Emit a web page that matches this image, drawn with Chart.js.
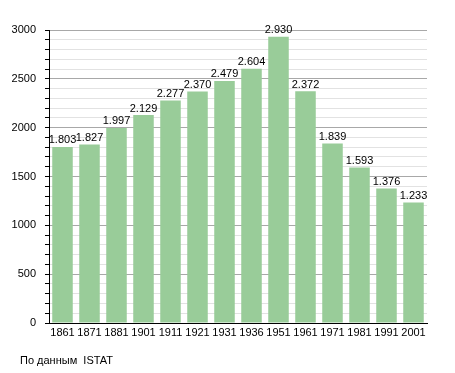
<!DOCTYPE html>
<html>
<head>
<meta charset="utf-8">
<script src="https://cdn.jsdelivr.net/npm/chart.js@4"></script>
<style>
  html, body { margin: 0; padding: 0; background: #fff; }
  #wrap { position: relative; width: 455px; height: 373px; }
  #note { position: absolute; left: 20px; top: 354px; font: 11px "Liberation Sans", Arial, sans-serif; color: #000; }
</style>
</head>
<body>
<div id="wrap">
  <canvas id="chart" width="455" height="373"></canvas>
  <div id="note">По данным&nbsp; ISTAT</div>
</div>
<script>
const years = ["1861", "1871", "1881", "1901", "1911", "1921", "1931", "1936", "1951", "1961", "1971", "1981", "1991", "2001"];
const population = [1803, 1827, 1997, 2129, 2277, 2370, 2479, 2604, 2930, 2372, 1839, 1593, 1376, 1233];
const yTicks = [0, 500, 1000, 1500, 2000, 2500, 3000];

const fontFamily = '"Liberation Sans", Arial, sans-serif';

// value labels above bars, italian thousands separator
const valueLabels = {
    id: "valueLabels",
    afterDatasetsDraw(chart) {
        const ctx = chart.ctx;
        const meta = chart.getDatasetMeta(0);
        ctx.save();
        ctx.font = "11px " + fontFamily;
        ctx.fillStyle = "#000";
        ctx.textAlign = "center";
        ctx.textBaseline = "bottom";
        meta.data.forEach((bar, i) => {
            const v = population[i];
            const txt = Math.floor(v / 1000) + "." + String(v % 1000).padStart(3, "0");
            ctx.fillText(txt, bar.x, bar.y - 1);
        });
        ctx.restore();
    }
};

new Chart(document.getElementById("chart"), {
    type: "bar",
    data: {
        labels: years,
        datasets: [{
            data: population,
            backgroundColor: "#99cc99",
            borderWidth: 0,
            barPercentage: 0.76,
            categoryPercentage: 1.0
        }]
    },
    options: {
        responsive: false,
        animation: false,
        layout: { padding: { left: 0, right: 28, top: 30, bottom: 0 } },
        plugins: {
            legend: { display: false },
            tooltip: { enabled: false }
        },
        scales: {
            x: {
                grid: { display: false, drawTicks: false },
                border: { color: "#000", width: 1 },
                ticks: {
                    color: "#000",
                    font: { family: fontFamily, size: 11 },
                    padding: 3,
                    maxRotation: 0,
                    autoSkip: false
                },
                afterFit(scale) { scale.height = 50; }
            },
            y: {
                min: 0,
                max: 3000,
                border: { color: "#000", width: 1 },
                grid: {
                    color: (c) => (c.tick && c.tick.value % 500 === 0 ? "#a8a8a8" : "#e2e2e2"),
                    tickColor: "#000",
                    tickLength: 4,
                    drawTicks: true
                },
                ticks: {
                    stepSize: 100,
                    color: "#000",
                    font: { family: fontFamily, size: 11 },
                    padding: 9,
                    autoSkip: false,
                    callback: (v) => (yTicks.includes(v) ? String(v) : "")
                },
                afterFit(scale) { scale.width = 49; }
            }
        }
    },
    plugins: [valueLabels]
});
</script>
</body>
</html>
